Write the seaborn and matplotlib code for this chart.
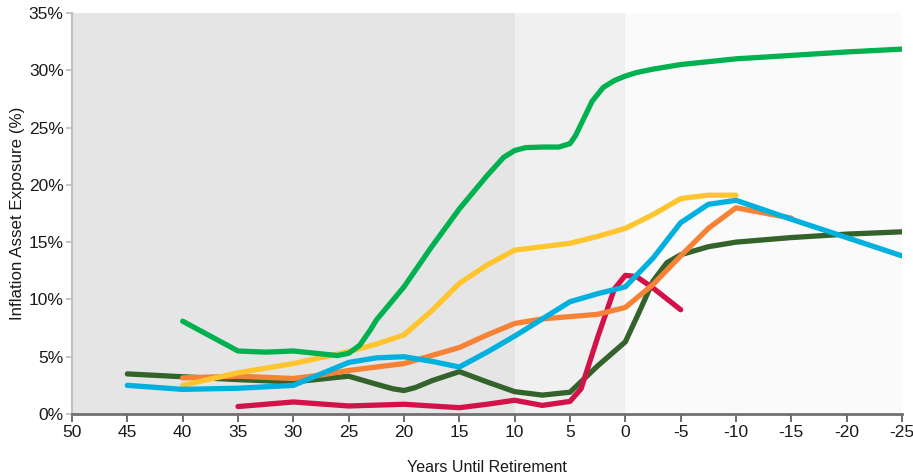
import numpy as np
import pandas as pd
import seaborn as sns
import matplotlib
matplotlib.use("Agg")
import matplotlib.pyplot as plt

# ---- data ----
green_x = [40, 37.5, 35, 32.5, 30, 27.5, 26, 25, 24, 23, 22.5, 20, 17.5, 15, 12.5, 11, 10, 9, 7.5, 6, 5, 4.5, 4, 3, 2, 1, 0, -1, -2.5, -5, -10, -15, -20, -25]
green_y = [8.1, 6.8, 5.5, 5.4, 5.5, 5.25, 5.1, 5.3, 6.0, 7.4, 8.2, 11.1, 14.6, 17.9, 20.8, 22.4, 23.0, 23.25, 23.3, 23.3, 23.6, 24.3, 25.3, 27.3, 28.5, 29.1, 29.5, 29.8, 30.1, 30.5, 31.0, 31.3, 31.6, 31.85]

yellow_x = [40, 35, 30, 25, 22.5, 20, 17.5, 15, 12.5, 10, 7.5, 5, 2.5, 0, -2.5, -5, -7.5, -10]
yellow_y = [2.5, 3.6, 4.4, 5.45, 6.1, 6.9, 9.0, 11.4, 13.0, 14.3, 14.6, 14.9, 15.5, 16.2, 17.4, 18.8, 19.1, 19.1]

orange_x = [40, 35, 30, 27.5, 25, 20, 15, 12.5, 10, 7.5, 5, 2.5, 0, -2.5, -5, -7.5, -10, -15]
orange_y = [3.15, 3.3, 3.1, 3.4, 3.8, 4.4, 5.8, 6.9, 7.9, 8.3, 8.5, 8.7, 9.3, 11.3, 13.8, 16.2, 18.0, 17.1]

blue_x = [45, 40, 35, 30, 27.5, 25, 22.5, 20, 17.5, 15, 12.5, 10, 7.5, 5, 2.5, 0, -2.5, -5, -7.5, -10, -15, -20, -25]
blue_y = [2.5, 2.15, 2.25, 2.5, 3.5, 4.5, 4.9, 5.0, 4.6, 4.1, 5.4, 6.8, 8.3, 9.8, 10.5, 11.1, 13.6, 16.7, 18.3, 18.65, 17.0, 15.4, 13.8]

dkgreen_x = [45, 40, 35, 30, 25, 22.5, 21, 20, 19, 17.5, 15, 12.5, 10, 7.5, 5, 2.5, 0, -1.25, -2.5, -3.75, -5, -7.5, -10, -15, -20, -25]
dkgreen_y = [3.5, 3.25, 3.0, 2.8, 3.3, 2.6, 2.2, 2.05, 2.3, 2.9, 3.7, 2.8, 1.95, 1.65, 1.9, 4.2, 6.3, 8.9, 11.6, 13.2, 13.9, 14.6, 15.0, 15.4, 15.7, 15.9]

red_x = [35, 30, 25, 20, 15, 12.5, 10, 7.5, 5, 4, 2.5, 1, 0, -1, -2.5, -5]
red_y = [0.65, 1.05, 0.7, 0.85, 0.55, 0.85, 1.2, 0.75, 1.1, 2.2, 6.7, 10.9, 12.1, 12.0, 11.0, 9.1]

series_names = ["dkgreen", "red", "orange", "yellow", "green", "blue"]
series_x = [dkgreen_x, red_x, orange_x, yellow_x, green_x, blue_x]
series_y = [dkgreen_y, red_y, orange_y, yellow_y, green_y, blue_y]
colors = ["#33622B", "#D3124A", "#F68236", "#FFC52F", "#00B150", "#00B0DF"]

x_ticks = [50, 45, 40, 35, 30, 25, 20, 15, 10, 5, 0, -5, -10, -15, -20, -25]
x_tick_labels = ["50", "45", "40", "35", "30", "25", "20", "15", "10", "5", "0", "-5", "-10", "-15", "-20", "-25"]
y_ticks = [0, 5, 10, 15, 20, 25, 30, 35]
y_tick_labels = ["0%", "5%", "10%", "15%", "20%", "25%", "30%", "35%"]

x_label = "Years Until Retirement"
y_label = "Inflation Asset Exposure (%)"

# ---- build long table ----
rows = []
for name, xs, ys in zip(series_names, series_x, series_y):
    for xv, yv in zip(xs, ys):
        rows.append({"series": name, "years": xv, "value": yv})
df = pd.DataFrame(rows)

sns.set_theme(style="white")
fam = ["Liberation Sans", "DejaVu Sans"]
plt.rcParams["font.family"] = fam

fig = plt.figure(figsize=(9.13, 4.76), dpi=100)
ax = fig.add_axes([72 / 913, 1 - 414 / 476, (902 - 72) / 913, (414 - 13) / 476])

# background bands
ax.axvspan(50, 10, color="#E5E5E5", zorder=0, lw=0)
ax.axvspan(10, 0, color="#F0F0F0", zorder=0, lw=0)
ax.axvspan(0, -25, color="#FAFAFA", zorder=0, lw=0)

sns.lineplot(data=df, x="years", y="value", hue="series", hue_order=series_names,
             palette=dict(zip(series_names, colors)), estimator=None, sort=True,
             linewidth=3.8, legend=False, ax=ax,
             solid_capstyle="round", solid_joinstyle="round")

ax.set_xlim(50, -25)
ax.set_ylim(0, 35)
ax.set_xticks(x_ticks)
ax.set_xticklabels(x_tick_labels)
ax.set_yticks(y_ticks)
ax.set_yticklabels(y_tick_labels)

for lab in ax.get_xticklabels() + ax.get_yticklabels():
    lab.set_fontsize(12.5)
    lab.set_color("#1a1a1a")

ax.tick_params(axis="x", direction="out", length=6, width=1.2, color="#555555", pad=2, bottom=True)
ax.tick_params(axis="y", direction="out", length=4, width=1.2, color="#BBBBBB", pad=2, left=True)

for s in ["top", "right"]:
    ax.spines[s].set_visible(False)
ax.spines["left"].set_color("#BFBFBF")
ax.spines["left"].set_linewidth(1.5)
ax.spines["bottom"].set_color("#707070")
ax.spines["bottom"].set_linewidth(2)

ax.set_xlabel(x_label, fontsize=11.5, color="#1a1a1a", labelpad=14)
ax.set_ylabel(y_label, fontsize=12.2, color="#1a1a1a", labelpad=3)
ax.grid(False)

fig.savefig("out.png", dpi=100)
